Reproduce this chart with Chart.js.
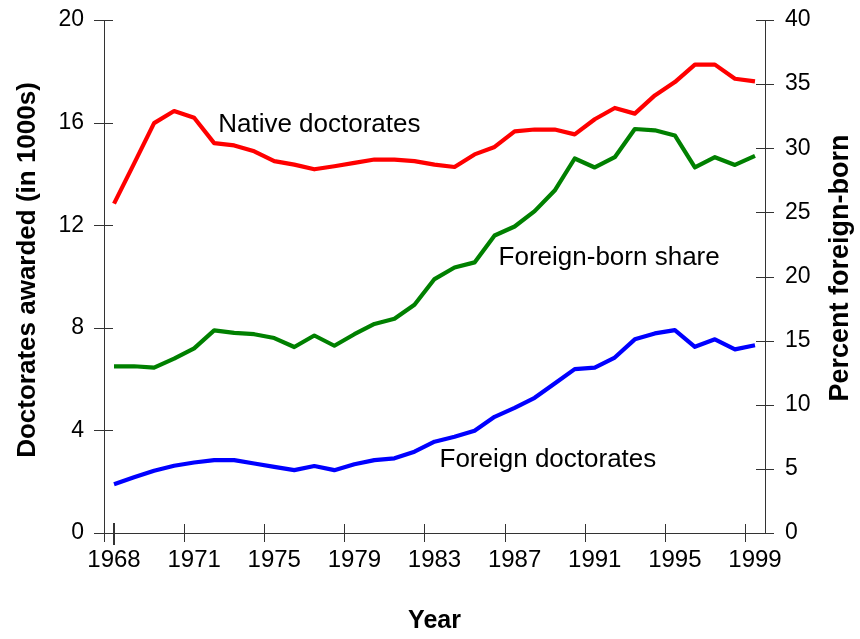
<!DOCTYPE html>
<html>
<head>
<meta charset="utf-8">
<script src="https://cdn.jsdelivr.net/npm/chart.js@4.4.0/dist/chart.umd.min.js"></script>
<style>
html, body { margin: 0; padding: 0; background: #fff; }
</style>
</head>
<body>
<canvas id="myChart" width="860" height="639"></canvas>
<script>
// one category per year, 33 in all
const years = [1967, 1968, 1969, 1970, 1971, 1972, 1973, 1974, 1975, 1976, 1977,
	1978, 1979, 1980, 1981, 1982, 1983, 1984, 1985, 1986, 1987, 1988,
	1989, 1990, 1991, 1992, 1993, 1994, 1995, 1996, 1997, 1998, 1999];

// labels printed under the axis (every 4th category)
const yearTicks = ['1968', '', '', '', '1971', '', '', '', '1975', '', '', '', '1979', '', '', '',
	'1983', '', '', '', '1987', '', '', '', '1991', '', '', '', '1995', '', '', '', '1999'];

// doctorates awarded, in 1000s
const nativeDocs = [12.84, 14.40, 15.98, 16.45, 16.19, 15.20, 15.11, 14.88, 14.50, 14.36, 14.18,
	14.30, 14.43, 14.56, 14.56, 14.50, 14.36, 14.27, 14.76, 15.05, 15.66, 15.73,
	15.73, 15.54, 16.13, 16.57, 16.35, 17.06, 17.58, 18.26, 18.26, 17.71, 17.61];
const foreignDocs = [1.90, 2.17, 2.43, 2.62, 2.75, 2.84, 2.84, 2.71, 2.58, 2.45, 2.61,
	2.45, 2.68, 2.84, 2.91, 3.17, 3.56, 3.75, 3.99, 4.53, 4.88, 5.27,
	5.83, 6.39, 6.45, 6.84, 7.55, 7.78, 7.91, 7.26, 7.55, 7.16, 7.32];

// percent foreign-born
const foreignShare = [13.0, 13.0, 12.9, 13.6, 14.4, 15.8, 15.6, 15.5, 15.2, 14.5, 15.4,
	14.6, 15.5, 16.3, 16.7, 17.8, 19.8, 20.7, 21.1, 23.2, 23.9, 25.1,
	26.7, 29.2, 28.5, 29.3, 31.5, 31.4, 31.0, 28.5, 29.3, 28.7, 29.4];

// text written next to each line: category index + left-axis value of the baseline
const lineNotes = [
	{ text: 'Native doctorates', at: 5.2, value: 15.62 },
	{ text: 'Foreign-born share', at: 19.2, value: 10.44 },
	{ text: 'Foreign doctorates', at: 16.25, value: 2.58 }
];

const axisColor = '#333';
const fontName = '"Liberation Sans", Arial, Helvetica, sans-serif';

const axisMarks = {
	id: 'axisMarks',
	afterDraw(chart) {
		const ctx = chart.ctx;
		const area = chart.chartArea;
		const xs = chart.scales.x, yl = chart.scales.y, yr = chart.scales.y2;
		const crisp = v => Math.round(v) + 0.5;

		ctx.save();
		ctx.strokeStyle = axisColor;
		ctx.lineWidth = 1;
		ctx.beginPath();
		yl.ticks.forEach(t => {
			let py = crisp(yl.getPixelForValue(t.value));
			ctx.moveTo(area.left - 10, py);
			ctx.lineTo(area.left + 9, py);
		});
		yr.ticks.forEach(t => {
			let py = crisp(yr.getPixelForValue(t.value));
			ctx.moveTo(area.right - 9, py);
			ctx.lineTo(area.right + 9, py);
		});
		for (let k = 0; k < years.length; k += 4) {
			let px = crisp(xs.getPixelForValue(k - 0.5));
			ctx.moveTo(px, area.bottom - 9);
			ctx.lineTo(px, area.bottom + 9);
		}
		ctx.stroke();
		// first year mark
		ctx.lineWidth = 2;
		ctx.beginPath();
		let p0 = Math.round(xs.getPixelForValue(0));
		ctx.moveTo(p0, area.bottom - 10);
		ctx.lineTo(p0, area.bottom + 12);
		ctx.stroke();

		ctx.fillStyle = '#000';
		ctx.font = '26px ' + fontName;
		ctx.textAlign = 'left';
		ctx.textBaseline = 'alphabetic';
		lineNotes.forEach(n => {
			ctx.fillText(n.text, xs.getPixelForValue(n.at), yl.getPixelForValue(n.value));
		});

		// both axis titles read bottom to top
		ctx.textAlign = 'center';
		ctx.textBaseline = 'middle';
		ctx.save();
		ctx.font = 'bold 26px ' + fontName;
		ctx.translate(28, 270);
		ctx.rotate(-Math.PI / 2);
		ctx.fillText('Doctorates awarded (in 1000s)', 0, 0);
		ctx.restore();
		ctx.save();
		ctx.font = 'bold 27px ' + fontName;
		ctx.translate(841, 268);
		ctx.rotate(-Math.PI / 2);
		ctx.fillText('Percent foreign-born', 0, 0);
		ctx.restore();
		ctx.restore();
	}
};

// keep the plot box where the original has it
const fixLeft = s => { s.width = 104; s.paddingTop = 0; s.paddingBottom = 0; };
const fixRight = s => { s.width = 95; s.paddingTop = 0; s.paddingBottom = 0; };

const data = {
	labels: years,
	datasets: [{
		label: 'Native doctorates',
		data: nativeDocs,
		borderColor: '#ff0000',
		yAxisID: 'y'
	}, {
		label: 'Foreign-born share',
		data: foreignShare,
		borderColor: '#008000',
		yAxisID: 'y2'
	}, {
		label: 'Foreign doctorates',
		data: foreignDocs,
		borderColor: '#0000ff',
		yAxisID: 'y'
	}]
};

const config = {
	type: 'line',
	data: data,
	options: {
		responsive: false,
		animation: false,
		devicePixelRatio: 1,
		layout: { padding: { top: 20 } },
		elements: {
			line: { borderWidth: 4.2, tension: 0, borderJoinStyle: 'round' },
			point: { radius: 0 }
		},
		plugins: {
			legend: { display: false },
			tooltip: { enabled: false }
		},
		scales: {
			x: {
				type: 'category',
				offset: true,
				grid: { display: false, drawTicks: false },
				border: { display: true, color: axisColor, width: 1 },
				ticks: {
					autoSkip: false,
					maxRotation: 0,
					padding: 13,
					color: '#000',
					font: { family: fontName, size: 24 },
					callback: (value, index) => yearTicks[index]
				},
				title: {
					display: true,
					text: 'Year',
					color: '#000',
					font: { family: fontName, size: 25, weight: 'bold' },
					padding: { top: 0, bottom: 3 }
				},
				afterFit: s => { s.height = 106; }
			},
			y: {
				position: 'left',
				min: 0,
				max: 20,
				grid: { display: false, drawTicks: false },
				border: { display: true, color: axisColor, width: 1 },
				ticks: {
					stepSize: 4,
					padding: 20,
					color: '#000',
					font: { family: fontName, size: 23 }
				},
				afterFit: fixLeft
			},
			y2: {
				position: 'right',
				min: 0,
				max: 40,
				grid: { display: false, drawTicks: false },
				border: { display: true, color: axisColor, width: 1 },
				ticks: {
					stepSize: 5,
					padding: 20,
					color: '#000',
					font: { family: fontName, size: 23 }
				},
				afterFit: fixRight
			}
		}
	},
	plugins: [axisMarks]
};

const myChart = new Chart(
	document.getElementById('myChart'),
	config
);
</script>
</body>
</html>
